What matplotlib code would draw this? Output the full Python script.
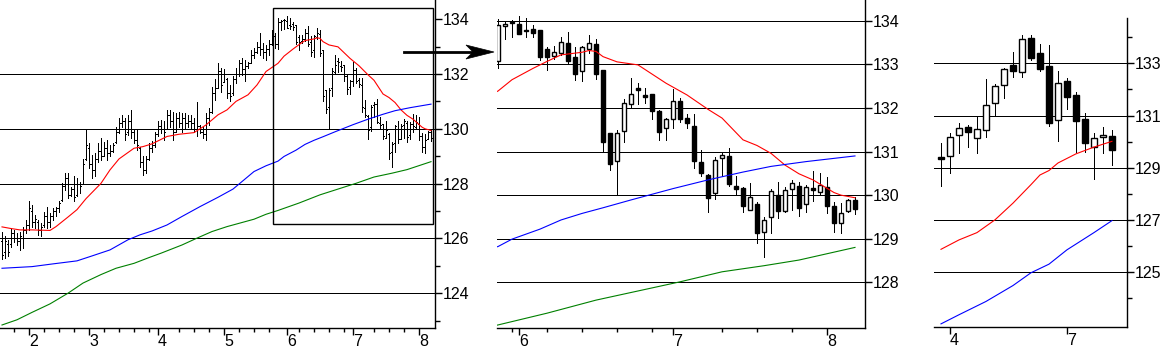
import matplotlib
matplotlib.use('Agg')
import matplotlib.pyplot as plt
from matplotlib.patches import Rectangle, Polygon
from matplotlib.lines import Line2D

plt.rcParams['font.family'] = ['Liberation Sans', 'DejaVu Sans']

W, H = 1168, 364

# ---- daily prices (bar index 0..143) ----
d_open = [125.9, 125.5, 125.8, 125.8, 126.2, 126.0, 125.9, 126.0, 126.3, 126.5,
          127.0, 126.6, 126.6, 126.3, 126.5, 126.8, 126.6, 126.8, 127.0, 127.1,
          127.4, 127.9, 128.2, 127.6, 127.8, 127.6, 128.0, 128.0, 128.9, 129.3,
          128.7, 128.5, 128.9, 129.2, 129.0, 129.3, 129.1, 129.2, 129.5, 129.9,
          130.2, 130.3, 129.9, 130.3, 129.9, 129.6, 129.3, 128.8, 128.5, 128.9,
          129.3, 129.4, 129.8, 130.1, 130.0, 130.0, 130.5, 130.3, 129.9, 130.4,
          130.2, 130.4, 130.2, 130.3, 130.2, 130.0, 130.1, 129.9, 129.8, 130.4,
          130.6, 131.3, 131.5, 132.1, 131.7, 131.8, 131.3, 131.3, 131.8, 132.0,
          132.4, 132.2, 132.3, 132.4, 132.7, 132.8, 133.0, 132.9, 132.8, 132.9,
          133.1, 133.4,
          133.09, 133.88, 133.98, 133.93, 133.79, 133.82, 133.79, 133.36, 133.19, 133.26,
          133.49, 133.17, 132.86, 133.36, 133.47, 132.87, 131.43, 130.79, 131.48, 132.09,
          132.46, 132.30, 132.32, 131.94, 131.54, 131.74, 132.16, 131.77, 131.59, 130.75,
          130.46, 130.06, 130.85, 130.90, 130.20, 130.16, 129.65, 129.80, 129.15, 129.49,
          130.00, 129.64, 130.13, 130.21, 129.79, 130.16, 130.08, 130.18, 129.75, 129.35,
          129.64, 129.88]
d_high = [126.25, 126.07, 125.95, 126.37, 126.31, 126.19, 126.25, 126.43, 126.68, 127.38,
          127.22, 126.86, 126.68, 126.55, 126.98, 127.16, 126.92, 127.10, 127.16, 127.35,
          128.01, 128.38, 128.38, 127.89, 128.26, 128.20, 128.07, 128.90, 129.98, 129.47,
          129.05, 129.11, 129.47, 129.66, 129.53, 129.60, 129.41, 129.47, 130.08, 130.39,
          130.51, 130.39, 130.51, 130.69, 129.96, 129.96, 129.35, 128.99, 128.99, 129.47,
          129.54, 129.90, 130.27, 130.33, 130.27, 130.69, 130.69, 130.63, 130.57, 130.63,
          130.57, 130.57, 130.51, 130.51, 130.39, 130.99, 130.14, 130.08, 130.57, 130.75,
          131.52, 131.81, 132.39, 132.21, 132.19, 131.85, 131.60, 131.91, 132.21, 132.52,
          132.58, 132.52, 132.45, 132.88, 132.94, 133.18, 133.49, 133.12, 133.06, 133.25,
          133.61, 133.49,
          134.04, 133.98, 134.01, 134.11, 134.06, 133.91, 133.79, 133.41, 133.43, 133.64,
          133.75, 133.40, 133.43, 133.68, 133.59, 132.87, 131.43, 131.50, 132.21, 132.69,
          132.58, 132.46, 132.32, 131.96, 131.78, 132.44, 132.22, 131.86, 131.86, 131.04,
          130.49, 130.87, 130.98, 131.09, 130.44, 130.18, 130.28, 129.84, 129.50, 130.14,
          130.30, 130.19, 130.35, 130.30, 130.23, 130.55, 130.51, 130.42, 129.85, 129.82,
          129.91, 129.95]
d_low = [125.24, 125.28, 125.34, 125.70, 125.88, 125.76, 125.58, 125.64, 126.19, 126.31,
         126.43, 126.37, 126.13, 126.07, 126.43, 126.37, 126.43, 126.68, 126.80, 126.98,
         127.35, 127.77, 127.47, 127.53, 127.35, 127.53, 127.65, 128.01, 128.87, 128.56,
         128.20, 128.26, 128.80, 128.87, 128.99, 128.87, 128.99, 129.17, 129.47, 129.84,
         130.08, 129.60, 129.78, 129.66, 129.47, 129.23, 128.62, 128.32, 128.38, 128.87,
         129.17, 129.35, 129.72, 129.84, 129.60, 130.02, 130.08, 129.60, 129.90, 130.08,
         129.90, 130.02, 130.08, 130.02, 129.90, 129.72, 129.84, 129.66, 129.60, 130.14,
         130.57, 131.06, 131.48, 131.36, 131.73, 131.12, 131.00, 131.24, 131.66, 131.91,
         131.97, 131.73, 132.21, 132.39, 132.58, 132.76, 132.70, 132.58, 132.52, 132.70,
         133.06, 132.94,
         132.91, 133.59, 133.64, 133.69, 133.64, 133.62, 133.10, 132.87, 133.12, 133.22,
         133.01, 132.65, 132.63, 133.27, 132.67, 131.02, 130.58, 130.03, 131.21, 132.03,
         132.09, 132.11, 131.74, 131.27, 131.27, 131.55, 131.67, 131.54, 130.62, 130.43,
         129.62, 129.92, 130.43, 130.20, 130.00, 129.61, 129.65, 128.89, 128.59, 129.14,
         129.48, 129.61, 129.66, 129.53, 129.62, 129.87, 130.00, 129.58, 129.15, 129.12,
         129.61, 129.57]
d_close = [125.4, 125.9, 125.5, 126.2, 126.0, 125.9, 126.1, 126.3, 126.5, 127.1,
           126.6, 126.7, 126.3, 126.4, 126.8, 126.6, 126.8, 127.0, 127.1, 127.3,
           127.9, 128.2, 127.6, 127.8, 127.5, 128.0, 127.9, 128.7, 129.4, 128.7,
           128.5, 128.9, 129.2, 129.0, 129.3, 129.1, 129.2, 129.4, 129.9, 130.2,
           130.3, 129.8, 130.3, 129.9, 129.6, 129.4, 128.8, 128.5, 128.9, 129.3,
           129.4, 129.8, 130.1, 130.0, 129.9, 130.5, 130.3, 129.9, 130.4, 130.2,
           130.4, 130.2, 130.3, 130.2, 130.0, 130.1, 129.9, 129.8, 130.4, 130.6,
           131.3, 131.5, 132.1, 131.6, 132.0, 131.3, 131.2, 131.8, 132.0, 132.4,
           132.2, 132.3, 132.4, 132.7, 132.8, 133.0, 132.9, 132.8, 132.9, 133.1,
           133.4, 133.1,
           133.91, 133.93, 133.96, 133.69, 133.76, 133.73, 133.18, 133.16, 133.28, 133.51,
           133.09, 132.79, 133.40, 133.49, 132.77, 131.21, 130.72, 131.42, 132.11, 132.32,
           132.42, 132.25, 131.94, 131.46, 131.75, 132.16, 131.74, 131.65, 130.79, 130.50,
           129.94, 130.80, 130.92, 130.26, 130.15, 129.74, 129.95, 129.12, 129.43, 130.09,
           129.64, 130.11, 130.28, 129.71, 130.18, 130.12, 130.23, 129.74, 129.35, 129.58,
           129.88, 129.68]

# daily moving averages, read at bar indices
red_x = [0, 3, 6, 10, 16, 18, 22, 25, 28, 33, 36, 39, 44, 47, 50, 55, 59, 64, 68, 72,
         75, 78, 82, 85, 88, 92, 94, 97, 99, 101, 104, 105, 106, 107, 109, 112, 114, 116,
         119, 122, 124, 127, 129, 131, 133, 135, 137, 140, 141, 143]
red_y = [126.42, 126.36, 126.31, 126.31, 126.29, 126.43, 126.78, 127.05, 127.45, 128.01,
         128.50, 128.90, 129.29, 129.35, 129.45, 129.72, 129.80, 129.86, 130.14, 130.51,
         130.69, 131.00, 131.24, 131.60, 132.09, 132.39, 132.65, 132.91, 133.07, 133.22,
         133.28, 133.32, 133.30, 133.18, 133.06, 132.99, 132.78, 132.57, 132.30, 131.97,
         131.77, 131.27, 131.14, 130.96, 130.69, 130.49, 130.35, 130.06, 130.00, 129.94]
blue_x = [0, 10, 17, 25, 30, 36, 42, 46, 50, 55, 60, 66, 72, 77, 84, 88, 92, 94, 98, 101,
          104, 107, 111, 114, 117, 122, 127, 131, 136, 143]
blue_y = [124.91, 124.97, 125.07, 125.18, 125.36, 125.58, 125.95, 126.13, 126.27, 126.49,
          126.80, 127.16, 127.50, 127.80, 128.44, 128.65, 128.82, 128.99, 129.22, 129.43,
          129.58, 129.71, 129.89, 130.02, 130.15, 130.35, 130.53, 130.66, 130.77, 130.90]
green_x = [0, 5, 10, 16, 22, 27, 33, 38, 44, 49, 53, 60, 65, 70, 75, 80, 84, 88, 92, 99,
           106, 118, 124, 130, 135, 143]
green_y = [122.84, 123.03, 123.30, 123.61, 124.00, 124.37, 124.68, 124.91, 125.09, 125.30,
           125.46, 125.76, 126.01, 126.25, 126.43, 126.58, 126.70, 126.88, 127.02, 127.29,
           127.59, 128.01, 128.24, 128.38, 128.51, 128.80]

# ---- weekly prices ----
w_open = [129.41, 129.44, 130.24, 130.55, 130.13, 130.43, 131.47, 132.16, 132.92, 132.65,
          133.99, 133.38, 132.90, 130.81, 132.32, 131.79, 130.87, 129.78, 130.16, 130.20]
w_high = [129.93, 130.32, 130.70, 130.62, 130.99, 132.39, 132.21, 132.83, 133.42, 134.08,
          134.08, 133.74, 133.70, 132.70, 132.42, 131.91, 131.08, 130.32, 130.55, 130.44]
w_low = [128.30, 128.81, 129.55, 129.78, 129.58, 130.19, 131.01, 131.68, 132.49, 132.49,
         133.13, 132.72, 130.60, 130.04, 131.26, 129.61, 129.61, 128.58, 129.55, 129.10]
w_close = [129.32, 130.16, 130.51, 130.36, 130.47, 131.39, 132.12, 132.77, 132.72, 133.92,
           133.19, 132.79, 130.72, 132.23, 131.72, 130.80, 129.93, 130.12, 130.24, 129.69]
wred_x = [0, 2, 4, 6, 8, 10, 11, 12, 13, 15, 17, 19]
wred_y = [125.87, 126.23, 126.51, 127.00, 127.64, 128.35, 128.72, 128.89, 129.18, 129.53,
          129.79, 130.01]
wblue_x = [0, 2, 5, 8, 10, 12, 14, 17, 19]
wblue_y = [123.01, 123.36, 123.87, 124.48, 124.97, 125.30, 125.85, 126.51, 126.97]

# ticks
month_pos = [9, 29, 52, 74, 95, 117, 139]
month_lab = ['2', '3', '4', '5', '6', '7', '8']
week_pos = [4, 14, 19, 24, 34, 39, 44, 49, 59, 64, 69, 79, 84, 89, 99, 104, 109, 114,
            124, 129, 134]
wk_month_pos = [1, 14]
wk_month_lab = ['4', '7']

PX = 0.72  # points per pixel


def px_axes(x0, y0, x1, y1):
    return fig.add_axes([x0 / W, 1 - y1 / H, (x1 - x0) / W, (y1 - y0) / H])


def style(ax):
    for s in ['top', 'left']:
        ax.spines[s].set_visible(False)
    for s in ['right', 'bottom']:
        ax.spines[s].set_linewidth(1.0)
    ax.yaxis.tick_right()
    ax.tick_params(axis='y', which='major', direction='out', length=7 * PX,
                   width=1.0, labelsize=11.5, pad=0.6)
    ax.tick_params(axis='y', which='minor', direction='out', length=5 * PX, width=1.0)
    ax.tick_params(axis='x', which='major', direction='out', length=7 * PX,
                   width=1.0, labelbottom=False)
    ax.tick_params(axis='x', which='minor', direction='out', length=4 * PX, width=1.0)


def xlabels(ax, pos, lab, hpx):
    for p, t in zip(pos, lab):
        ax.text(p, -6 / hpx, t, transform=ax.get_xaxis_transform(), ha='left',
                va='top', fontsize=11.5)


def grid(ax, levels):
    for v in levels:
        ax.axhline(v, color='black', lw=PX, zorder=1, antialiased=False)


def candles(ax, o, h, l, c, xs, w):
    for x, oo, hh, ll, cc in zip(xs, o, h, l, c):
        ax.vlines(x, ll, hh, color='black', lw=PX, zorder=2, antialiased=False)
        up = cc >= oo
        ax.add_patch(Rectangle((x - w / 2, min(oo, cc)), w, max(abs(cc - oo), 0.02),
                               facecolor='white' if up else 'black',
                               edgecolor='black', lw=1.0, zorder=3))


def mas(ax, series):
    for xv, yv, col in series:
        ax.plot(xv, yv, color=col, lw=0.8, zorder=4)


fig = plt.figure(figsize=(W / 100, H / 100), dpi=100)

# ---------- panel 1: daily bars ----------
ax1 = px_axes(0, 0, 435, 328)
style(ax1)
ax1.set_xlim(-0.667, 144.33)
ax1.set_ylim(122.73, 134.70)
ax1.set_yticks([124, 126, 128, 130, 132, 134])
ax1.set_yticks([123, 125, 127, 129, 131, 133], minor=True)
ax1.set_xticks(month_pos)
ax1.set_xticks(week_pos, minor=True)
xlabels(ax1, month_pos, month_lab, 328)
grid(ax1, [124, 126, 128, 130, 132])
xs = list(range(len(d_close)))
ax1.vlines(xs, d_low, d_high, color='black', lw=PX, zorder=2, antialiased=False)
ax1.hlines(d_open, [x - 0.4 for x in xs], xs, color='black', lw=PX, zorder=2,
           antialiased=False)
ax1.hlines(d_close, xs, [x + 0.4 for x in xs], color='black', lw=PX, zorder=2,
           antialiased=False)
mas(ax1, [(red_x, red_y, '#ff0000'), (blue_x, blue_y, '#0000ff'),
          (green_x, green_y, '#008000')])
ax1.add_patch(Rectangle((90.33, 126.52), 53.33, 7.89, fill=False, ec='black',
                        lw=1.0, zorder=5))

# ---------- panel 2: zoomed daily candles ----------
ax2 = px_axes(497, 0, 865, 328)
style(ax2)
ax2.set_xlim(91.857, 144.43)
ax2.set_ylim(126.95, 134.48)
ax2.set_yticks([128, 129, 130, 131, 132, 133, 134])
ax2.set_xticks(month_pos[4:])
ax2.set_xticks([p for p in week_pos if p > 92] + [94], minor=True)
xlabels(ax2, month_pos[4:], month_lab[4:], 328)
grid(ax2, [128, 129, 130, 131, 132, 133, 134])
candles(ax2, d_open[92:], d_high[92:], d_low[92:], d_close[92:], xs[92:], 0.67)
mas(ax2, [(red_x, red_y, '#ff0000'), (blue_x, blue_y, '#0000ff'),
          (green_x, green_y, '#008000')])

# ---------- panel 3: weekly candles ----------
ax3 = px_axes(934, 18, 1127, 327)
style(ax3)
ax3.set_xlim(-0.778, 20.67)
ax3.set_ylim(122.89, 134.74)
ax3.set_yticks([125, 127, 129, 131, 133])
ax3.set_yticks([124, 126, 128, 130, 132, 134], minor=True)
ax3.set_xticks(wk_month_pos)
xlabels(ax3, wk_month_pos, wk_month_lab, 309)
grid(ax3, [125, 127, 129, 131, 133])
candles(ax3, w_open, w_high, w_low, w_close, list(range(len(w_close))), 0.72)
mas(ax3, [(wred_x, wred_y, '#ff0000'), (wblue_x, wblue_y, '#0000ff')])


# ---------- arrow from the box to the zoomed panel ----------
def fpt(x, y):
    return (x / W, 1 - y / H)


fig.add_artist(Line2D([404 / W, 474 / W], [1 - 52 / H, 1 - 52 / H],
                      transform=fig.transFigure, color='black', lw=2.0))
fig.add_artist(Polygon([fpt(494, 52), fpt(466, 45), fpt(473, 52), fpt(466, 59)],
                       closed=True, transform=fig.transFigure, fc='black', ec='black',
                       lw=0.5))

fig.savefig('out.png', dpi=100)
